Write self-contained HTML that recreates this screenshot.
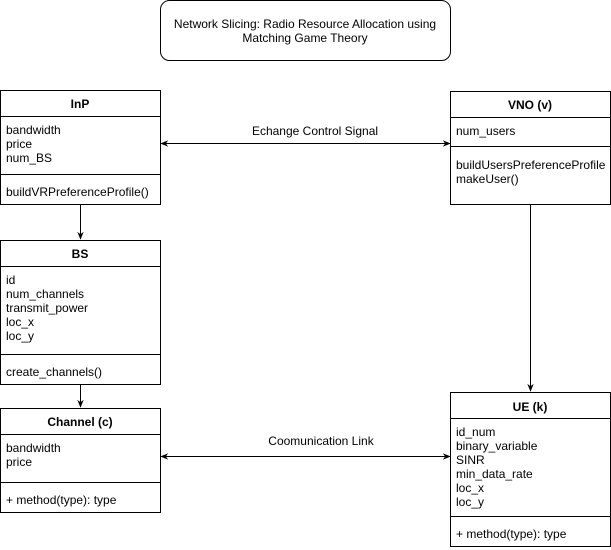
<!DOCTYPE html>
<html><head><meta charset="utf-8"><style>body{margin:0;background:#fff}svg{display:block}text{font-family:"Liberation Sans",sans-serif;font-size:12px;fill:#000}</style></head><body>
<svg width="611" height="550" xmlns="http://www.w3.org/2000/svg">
<defs><marker id="a" viewBox="0 0 10 10" refX="9" refY="5" markerWidth="8" markerHeight="8" orient="auto-start-reverse"><path d="M0,1 L10,5 L0,9 L3,5 z" fill="#000"/></marker></defs>
<g fill="none" stroke="#000" stroke-width="1">
<rect x="160.5" y="0.5" width="290" height="60" rx="9"/>
<rect x="0.5" y="90.5" width="160" height="114"/><line x1="0" y1="116.5" x2="161" y2="116.5"/><line x1="0" y1="174.5" x2="161" y2="174.5"/>
<rect x="450.5" y="91.5" width="160" height="113"/><line x1="450" y1="117.5" x2="611" y2="117.5"/><line x1="450" y1="146.5" x2="611" y2="146.5"/>
<rect x="0.5" y="240.5" width="160" height="144"/><line x1="0" y1="266.5" x2="161" y2="266.5"/><line x1="0" y1="354.5" x2="161" y2="354.5"/>
<rect x="0.5" y="408.5" width="160" height="104"/><line x1="0" y1="434.5" x2="161" y2="434.5"/><line x1="0" y1="482.5" x2="161" y2="482.5"/>
<rect x="450.5" y="392.5" width="160" height="154"/><line x1="450" y1="418.5" x2="611" y2="418.5"/><line x1="450" y1="516.5" x2="611" y2="516.5"/>
<line x1="80.5" y1="205" x2="80.5" y2="239" marker-end="url(#a)"/>
<line x1="80.5" y1="385" x2="80.5" y2="407" marker-end="url(#a)"/>
<line x1="530.5" y1="205" x2="530.5" y2="391" marker-end="url(#a)"/>
<line x1="161" y1="143.5" x2="450" y2="143.5" marker-start="url(#a)" marker-end="url(#a)"/>
<line x1="161" y1="456.5" x2="450" y2="456.5" marker-start="url(#a)" marker-end="url(#a)"/>
</g>
<text x="305" y="28" text-anchor="middle">Network Slicing: Radio Resource Allocation using</text>
<text x="305" y="42" text-anchor="middle">Matching Game Theory</text>
<text x="80" y="108" text-anchor="middle" font-weight="bold">InP</text>
<text x="6" y="134">bandwidth</text><text x="6" y="148">price</text><text x="6" y="162">num_BS</text>
<text x="6" y="196">buildVRPreferenceProfile()</text>
<text x="530" y="109" text-anchor="middle" font-weight="bold">VNO (v)</text>
<text x="456" y="135">num_users</text>
<text x="456" y="169">buildUsersPreferenceProfile</text><text x="456" y="183">makeUser()</text>
<text x="80" y="258" text-anchor="middle" font-weight="bold">BS</text>
<text x="6" y="284">id</text><text x="6" y="298">num_channels</text><text x="6" y="312">transmit_power</text><text x="6" y="326">loc_x</text><text x="6" y="340">loc_y</text>
<text x="6" y="376">create_channels()</text>
<text x="80" y="426" text-anchor="middle" font-weight="bold">Channel (c)</text>
<text x="6" y="452">bandwidth</text><text x="6" y="466">price</text>
<text x="6" y="504">+ method(type): type</text>
<text x="530" y="411" text-anchor="middle" font-weight="bold">UE (k)</text>
<text x="456" y="436">id_num</text><text x="456" y="450">binary_variable</text><text x="456" y="464">SINR</text><text x="456" y="478">min_data_rate</text><text x="456" y="492">loc_x</text><text x="456" y="506">loc_y</text>
<text x="456" y="538">+ method(type): type</text>
<text x="315" y="135" text-anchor="middle">Echange Control Signal</text>
<text x="321" y="445" text-anchor="middle">Coomunication Link</text>
</svg>
</body></html>
